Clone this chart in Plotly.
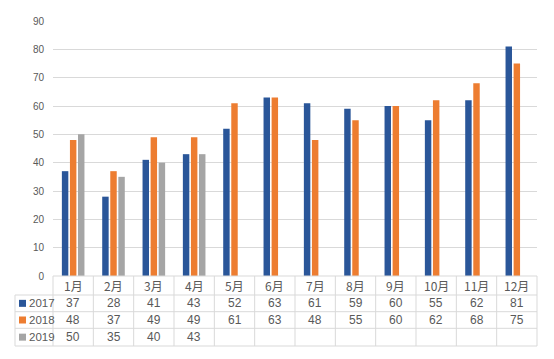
import plotly.graph_objects as go

months = ["1月", "2月", "3月", "4月", "5月", "6月", "7月", "8月", "9月", "10月", "11月", "12月"]
years = ["2017", "2018", "2019"]
v2017 = [37, 28, 41, 43, 52, 63, 61, 59, 60, 55, 62, 81]
v2018 = [48, 37, 49, 49, 61, 63, 48, 55, 60, 62, 68, 75]
v2019 = [50, 35, 40, 43, None, None, None, None, None, None, None, None]
colors = ["#2A5699", "#ED7D31", "#A5A5A5"]
series = [v2017, v2018, v2019]

W, H = 554, 359
L, R, T, B = 53, 17, 21, 83
ph = H - T - B
pw = W - L - R

def py(p):
    return (H - B - p) / ph

def px(p):
    return (p - L) / pw

fig = go.Figure()
xs = list(range(len(months)))
for name, vals, c in zip(years, series, colors):
    fig.add_trace(go.Bar(x=xs, y=vals, name=name, marker_color=c, marker_line_width=0,
                         hoverinfo="skip"))

line = dict(color="#D9D9D9", width=1)
shapes = []
row_bounds = [295, 311.7, 328.3, 346]
left = 15
shapes.append(dict(type="line", xref="paper", yref="paper", x0=0, x1=1, y0=py(276), y1=py(276), line=line))
for rl in row_bounds:
    shapes.append(dict(type="line", xref="paper", yref="paper", x0=px(left), x1=1, y0=py(rl), y1=py(rl), line=line))
n = len(months)
for i in range(n + 1):
    xp = i / n
    shapes.append(dict(type="line", xref="paper", yref="paper", x0=xp, x1=xp, y0=py(276), y1=py(346), line=line))
shapes.append(dict(type="line", xref="paper", yref="paper", x0=px(left), x1=px(left), y0=py(295), y1=py(346), line=line))

annotations = []
txt = dict(family="Liberation Sans, Noto Sans CJK SC, sans-serif", size=12, color="#595959")
leg_txt = dict(family="Liberation Sans, sans-serif", size=11.5, color="#595959")
for i, m in enumerate(months):
    annotations.append(dict(x=i, xref="x", y=py(285.5), yref="paper", text=m, showarrow=False,
                            font=dict(family="Noto Sans CJK SC, sans-serif", size=12, color="#595959"),
                            xanchor="center", yanchor="middle"))
for k, (name, vals, c) in enumerate(zip(years, series, colors)):
    yc = (row_bounds[k] + row_bounds[k + 1]) / 2
    for i, v in enumerate(vals):
        if v is None:
            continue
        annotations.append(dict(x=i, xref="x", y=py(yc), yref="paper", text=str(v), showarrow=False,
                                font=txt, xanchor="center", yanchor="middle"))
    annotations.append(dict(x=px(26.5), xref="paper", y=py(yc), yref="paper", text=name, showarrow=False,
                            font=leg_txt, xanchor="left", yanchor="middle"))
    shapes.append(dict(type="rect", xref="paper", yref="paper", x0=px(19), x1=px(26),
                       y0=py(yc - 3.5), y1=py(yc + 3.5), fillcolor=c, line=dict(width=0)))

fig.update_layout(
    width=W, height=H,
    margin=dict(l=L, r=R, t=T, b=B, autoexpand=False),
    paper_bgcolor="white", plot_bgcolor="white",
    barmode="group", bargap=0.4, bargroupgap=0.2,
    showlegend=False,
    shapes=shapes, annotations=annotations,
    xaxis=dict(range=[-0.5, n - 0.5], showticklabels=False, showgrid=False, zeroline=False,
               fixedrange=True, automargin=False),
    yaxis=dict(range=[0, 90], dtick=10, showgrid=True, gridcolor="#D9D9D9", gridwidth=1, zeroline=False,
               tickfont=dict(family="Liberation Sans, sans-serif", size=10, color="#595959"),
               ticklabelstandoff=8, showline=False, automargin=False, fixedrange=True),
    font=dict(family="Liberation Sans, sans-serif"),
)

fig.write_html("out.html", config={"displayModeBar": False},
               post_script="document.body.style.margin='0';")
